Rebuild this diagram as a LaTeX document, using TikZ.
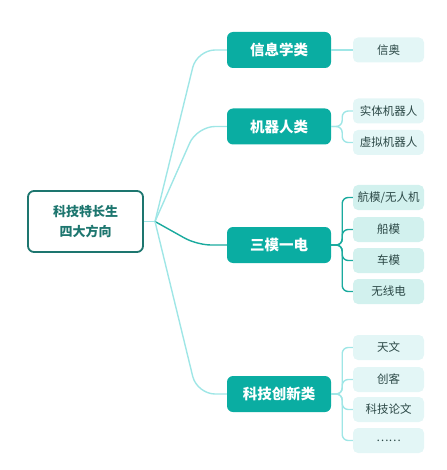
\documentclass[tikz,border=0pt]{standalone}
\usepackage{fontspec}
\setmainfont{Noto Sans CJK SC}
\definecolor{catfill}{HTML}{0AADA2}
\definecolor{rootline}{HTML}{1D766F}
\definecolor{leaffill}{HTML}{E3F6F6}
\definecolor{leafdk}{HTML}{D2F1EE}
\definecolor{lnklt}{HTML}{9FE6E6}
\definecolor{lnkdk}{HTML}{1AAA9E}
\definecolor{leaftext}{HTML}{2B4846}
\begin{document}
\begin{tikzpicture}[x=1pt,y=-1pt]
  \tikzstyle{cat}=[fill=catfill, text=white, font=\fontsize{14.5}{16}\selectfont\bfseries, rounded corners=6pt, minimum width=104pt, minimum height=36pt, inner sep=0pt]
  \tikzstyle{leaf}=[fill=leaffill, text=leaftext, font=\fontsize{11.5}{13}\selectfont, rounded corners=5pt, minimum width=71pt, minimum height=25pt, inner sep=0pt]
  \tikzstyle{lt}=[draw=lnklt, line width=1.4pt]
  \tikzstyle{dk}=[draw=lnkdk, line width=1.4pt]

  \useasboundingbox (0,0) rectangle (446,470);

  % tema central
  \node[draw=rootline, line width=1.8pt, fill=white, text=rootline, rounded corners=6pt, minimum width=115pt, minimum height=61pt, align=center, font=\fontsize{13}{20}\selectfont\bfseries] (root) at (85.5,221.5) {科技特长生\\四大方向};
  \coordinate (fork) at (155,221.5);

  % quatro ramos
  \node[cat] (c1) at (279,50) {信息学类};
  \node[cat] (c2) at (279,126.5) {机器人类};
  \node[cat] (c3) at (279,245) {三模一电};
  \node[cat] (c4) at (279,394) {科技创新类};

  % folhas
  \node[leaf] (l11) at (388.5,50) {信奥};
  \node[leaf] (l21) at (388.5,111) {实体机器人};
  \node[leaf] (l22) at (388.5,142.5) {虚拟机器人};
  \node[leaf, fill=leafdk] (l31) at (388.5,197.5) {航模/无人机};
  \node[leaf, fill=leafdk] (l32) at (388.5,229.5) {船模};
  \node[leaf, fill=leafdk] (l33) at (388.5,260.5) {车模};
  \node[leaf, fill=leafdk] (l34) at (388.5,291.5) {无线电};
  \node[leaf] (l41) at (388.5,347.5) {天文};
  \node[leaf] (l42) at (388.5,379.5) {创客};
  \node[leaf] (l43) at (388.5,409.5) {科技论文};
  \node[leaf] (l44) at (388.5,440.5) {……};

  % ligacoes do centro
  \draw[lt] (root.east) -- (fork);
  \draw[lt, rounded corners=18pt] (fork) -- (197,50) -- (c1.west);
  \draw[lt, rounded corners=18pt] (fork) -- (197,126.5) -- (c2.west);
  \draw[dk, rounded corners=14pt] (fork) -- (197,245) -- (c3.west);
  \draw[lt, rounded corners=18pt] (fork) -- (197,394) -- (c4.west);

  % ligacoes das folhas
  \draw[lt] (c1.east) -- (l11.west);
  \foreach \l in {l21,l22} {
    \draw[lt, rounded corners=6pt] (c2.east) -- ++(11,0) |- (\l.west);
  }
  \foreach \l in {l31,l32,l33,l34} {
    \draw[dk, rounded corners=6pt] (c3.east) -- ++(11,0) |- (\l.west);
  }
  \foreach \l in {l41,l42,l43,l44} {
    \draw[lt, rounded corners=6pt] (c4.east) -- ++(11,0) |- (\l.west);
  }
\end{tikzpicture}
\end{document}
